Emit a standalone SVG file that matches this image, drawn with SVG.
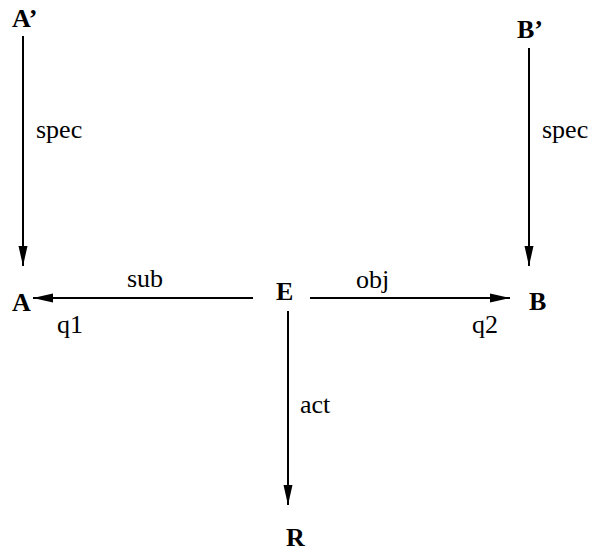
<svg xmlns="http://www.w3.org/2000/svg" width="591" height="553" viewBox="0 0 591 553">
<style>
text{font-family:"Liberation Serif","Times New Roman",serif;font-size:26px;fill:#000}
.n{font-weight:bold}
.e{stroke:#000;stroke-width:2;fill:none}
</style>
<defs>
<marker id="ah" viewBox="0 0 20 10" refX="20" refY="5" markerWidth="20" markerHeight="10" markerUnits="userSpaceOnUse" orient="auto">
<path d="M0,0.5 L20,5 L0,9.5 Z" fill="#000"/>
</marker>
</defs>
<rect width="591" height="553" fill="#fff"/>
<g id="connectors">
<line class="e" x1="23" y1="36" x2="23" y2="266" marker-end="url(#ah)"/>
<line class="e" x1="529" y1="48" x2="529" y2="266" marker-end="url(#ah)"/>
<line class="e" x1="253" y1="298" x2="33" y2="298" marker-end="url(#ah)"/>
<line class="e" x1="310" y1="298" x2="510" y2="298" marker-end="url(#ah)"/>
<line class="e" x1="288" y1="311" x2="288" y2="505" marker-end="url(#ah)"/>
<text x="36" y="138">spec</text>
<text x="542" y="138">spec</text>
<text x="127" y="287">sub</text>
<text x="356" y="288">obj</text>
<text x="300" y="413">act</text>
<text x="57" y="333">q1</text>
<text x="472" y="333">q2</text>
</g>
<g id="A1"><text class="n" x="12" y="27">A’</text></g>
<g id="B1"><text class="n" x="517" y="38">B’</text></g>
<g id="A"><text class="n" x="12" y="311">A</text></g>
<g id="E"><text class="n" x="276" y="300">E</text></g>
<g id="B"><text class="n" x="529" y="310">B</text></g>
<g id="R"><text class="n" x="286" y="546">R</text></g>
</svg>
